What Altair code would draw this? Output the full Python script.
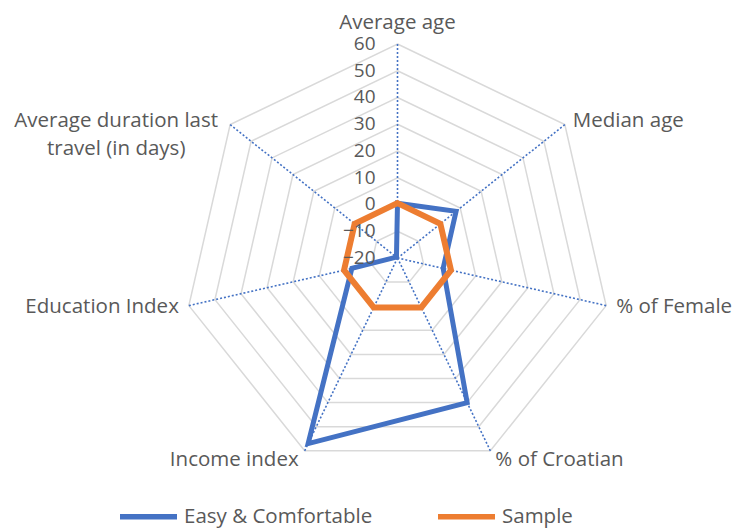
import altair as alt
import pandas as pd

categories = ["Average age", "Median age", "% of Female", "% of Croatian",
              "Income index", "Education Index", "Average duration last travel (in days)"]
easy = [0.5, 8, -2.5, 40, 57, -2.5, -19.5]
sample = [0.5, 0.5, 0.5, 0.5, 0.5, 0.5, 0.5]
ticks = [-20, -10, 0, 10, 20, 30, 40, 50, 60]
series_names = ["Easy & Comfortable", "Sample"]
colors = ["#4472C4", "#ED7D31"]

RMIN, RMAX = -20, 60
N = len(categories)
FONT = "Open Sans"
TXT = "#595959"
LFS = 20.5

# geometry of the plot area (unit-radius coordinates)
XDOM = [-1.8201, 1.5724]
YDOM = [-1.2617, 1.1682]

series_df = pd.DataFrame(
    [{"series": series_names[0], "idx": i, "value": v} for i, v in enumerate(easy)]
    + [{"series": series_names[1], "idx": i, "value": v} for i, v in enumerate(sample)]
)
cat_df = pd.DataFrame({"idx": list(range(N)), "category": categories})
ring_df = pd.DataFrame([{"ring": t, "idx": i} for t in ticks[1:] for i in range(N)])
tick_df = pd.DataFrame({"tick": ticks})

xs = alt.Scale(domain=XDOM, nice=False, zero=False)
ys = alt.Scale(domain=YDOM, nice=False, zero=False)

def polar(value_expr, idx_expr):
    r = f"(({value_expr}) - ({RMIN})) / ({RMAX - RMIN})"
    th = f"2 * PI * ({idx_expr}) / {N}"
    return f"{r} * sin({th})", f"{r} * cos({th})"

rx, ry = polar("datum.ring", "datum.idx")
rings = alt.Chart(ring_df).transform_calculate(px=rx, py=ry).mark_line(
    color="#D9D9D9", strokeWidth=1.5, interpolate="linear-closed"
).encode(
    x=alt.X("px:Q", scale=xs, axis=None),
    y=alt.Y("py:Q", scale=ys, axis=None),
    detail="ring:N",
    order="idx:Q",
)

sx, sy = polar(str(RMAX), "datum.idx")
spokes = alt.Chart(cat_df).transform_calculate(
    px=sx, py=sy, cx="0", cy="0"
).mark_rule(color="#4472C4", strokeWidth=1.6, strokeDash=[2, 2]).encode(
    x=alt.X("cx:Q", scale=xs, axis=None),
    y=alt.Y("cy:Q", scale=ys, axis=None),
    x2="px:Q",
    y2="py:Q",
)

tx, ty = polar("datum.tick", "0")
tick_labels = alt.Chart(tick_df).transform_calculate(px=tx, py=ty).mark_text(
    align="right", baseline="middle", dx=-22, fontSize=19, font=FONT, color=TXT
).encode(
    x=alt.X("px:Q", scale=xs, axis=None),
    y=alt.Y("py:Q", scale=ys, axis=None),
    text="tick:Q",
)

vx, vy = polar("datum.value", "datum.idx")
color_enc = alt.Color(
    "series:N",
    scale=alt.Scale(domain=series_names, range=colors),
    legend=alt.Legend(
        title=None, orient="none", direction="horizontal",
        legendX=109, legendY=477, symbolType="stroke", symbolSize=3249,
        symbolStrokeWidth=5.5, labelFontSize=LFS, labelFont=FONT, labelColor=TXT,
        labelOffset=4, columnPadding=54, padding=0, labelLimit=0,
    ),
)

def series_layer(name, width):
    return alt.Chart(series_df).transform_filter(
        alt.datum.series == name
    ).transform_calculate(px=vx, py=vy).mark_line(
        strokeWidth=width, interpolate="linear-closed", strokeJoin="miter"
    ).encode(
        x=alt.X("px:Q", scale=xs, axis=None),
        y=alt.Y("py:Q", scale=ys, axis=None),
        color=color_enc,
        order="idx:Q",
    )

def label_layer(indices, align, dx, dy):
    lx, ly = polar(str(RMAX), "datum.idx")
    return alt.Chart(cat_df).transform_filter(
        alt.FieldOneOfPredicate(field="idx", oneOf=indices)
    ).transform_calculate(px=lx, py=ly).mark_text(
        align=align, baseline="middle", dx=dx, dy=dy, fontSize=LFS, font=FONT,
        color=TXT
    ).encode(
        x=alt.X("px:Q", scale=xs, axis=None),
        y=alt.Y("py:Q", scale=ys, axis=None),
        text="category:N",
    )

lab_top = label_layer([0], "center", 0, -21)
lab_mid = label_layer([1], "left", 8, -4)
lab_fem = label_layer([2], "left", 10, 1)
lab_cro = label_layer([3], "left", 5, 9)
lab_inc = label_layer([4], "right", -6, 9)
lab_edu = label_layer([5], "right", -10, 1)

dur_df = pd.DataFrame({"idx": [6], "lines": [["Average duration last", "travel (in days)"]]})
dlx, dly = polar(str(RMAX), "datum.idx")
lab_dur = alt.Chart(dur_df).transform_calculate(px=dlx, py=dly).mark_text(
    align="center", baseline="middle", dx=-114, dy=-4, fontSize=LFS, font=FONT,
    color=TXT, lineHeight=28
).encode(
    x=alt.X("px:Q", scale=xs, axis=None),
    y=alt.Y("py:Q", scale=ys, axis=None),
    text="lines",
)

chart = alt.layer(
    rings, spokes,
    series_layer(series_names[0], 5), series_layer(series_names[1], 6),
    tick_labels,
    lab_top, lab_mid, lab_fem, lab_cro, lab_inc, lab_edu, lab_dur,
).properties(
    width=726, height=520, padding=0, autosize=alt.AutoSizeParams(type="none"),
    background="white",
).configure_view(stroke=None)

chart.save("out.html", embed_options={"renderer": "svg", "actions": False})
